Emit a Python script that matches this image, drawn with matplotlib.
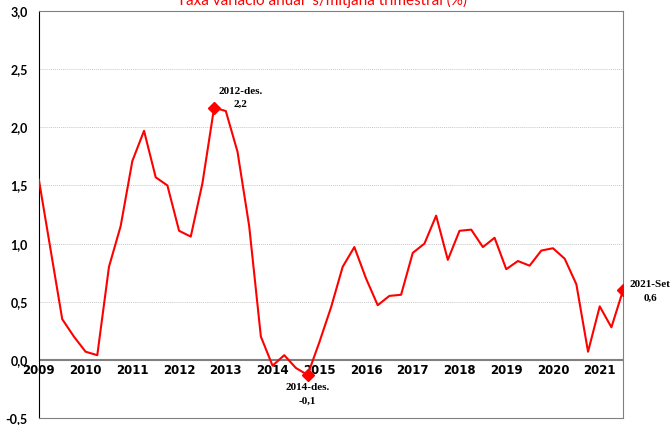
import numpy as np
import matplotlib.pyplot as plt

# quarterly series, 2009-T1 .. 2021-T3
values = [1.55, 0.95, 0.35, 0.20, 0.07, 0.04, 0.80, 1.15,
          1.71, 1.97, 1.57, 1.50, 1.11, 1.06, 1.52, 2.17,
          2.14, 1.79, 1.15, 0.20, -0.05, 0.04, -0.07, -0.13,
          0.15, 0.45, 0.80, 0.97, 0.70, 0.47, 0.55, 0.56,
          0.92, 1.00, 1.24, 0.86, 1.11, 1.12, 0.97, 1.05,
          0.78, 0.85, 0.81, 0.94, 0.96, 0.87, 0.65, 0.07,
          0.46, 0.28, 0.60]
years = [str(y) for y in range(2009, 2022)]
highlights = [15, 23, 50]
highlight_labels = ["2012-des.\n2,2", "2014-des.\n-0,1", "2021-Set\n0,6"]
yticks = [-0.5, 0.0, 0.5, 1.0, 1.5, 2.0, 2.5, 3.0]

x = np.arange(len(values))
vals = np.array(values)

fig = plt.figure(figsize=(6.7, 4.25), dpi=100)
ax = fig.add_axes([0.058, 0.0165, 0.872, 0.9575])

ax.plot(x, vals, color="#ff0000", lw=1.5, zorder=3)
ax.plot(x[highlights], vals[highlights], "D", color="#ff0000", ms=6, zorder=4)

ax.set_xlim(0, len(values) - 1)
ax.set_ylim(-0.5, 3.0)
ax.set_yticks(yticks)
ax.set_yticklabels([f"{v:.1f}".replace(".", ",") for v in yticks],
                   fontfamily="Lato", fontweight="bold", fontsize=9)
ax.tick_params(axis="y", length=0, pad=8)

for v in yticks[2:-1]:
    ax.axhline(v, color="#c8c8c8", lw=0.7, ls=(0, (1, 1)), zorder=1)
ax.axhline(0, color="#808080", lw=1.5, zorder=2)

ax.set_xticks([])
sec = ax.secondary_xaxis(0.5 / 3.5)
sec.set_xticks(x[::4][:len(years)])
sec.set_xticklabels(years, fontfamily=["Liberation Sans Narrow", "DejaVu Sans"],
                    fontweight="bold", fontsize=8.5)
sec.tick_params(length=0, pad=3)
sec.spines["bottom"].set_visible(False)

for s in ["top", "right", "bottom"]:
    ax.spines[s].set_color("#808080")
ax.spines["left"].set_color("black")

offsets = [(19, 7), (0, -14), (19.5, -1)]
for i, lab, off in zip(highlights, highlight_labels, offsets):
    ax.annotate(lab, (x[i], vals[i]), xytext=off, textcoords="offset points",
                ha="center", va="center", fontfamily="Liberation Serif",
                fontweight="bold", fontsize=8, annotation_clip=False,
                linespacing=1.6)

fig.text(0.48, 0.998, "Taxa variació anual  s/mitjana trimestral (%)",
         color="#ff0000", fontfamily="Lato", fontsize=11, ha="center", va="center")

fig.savefig("out.png", dpi=100)
